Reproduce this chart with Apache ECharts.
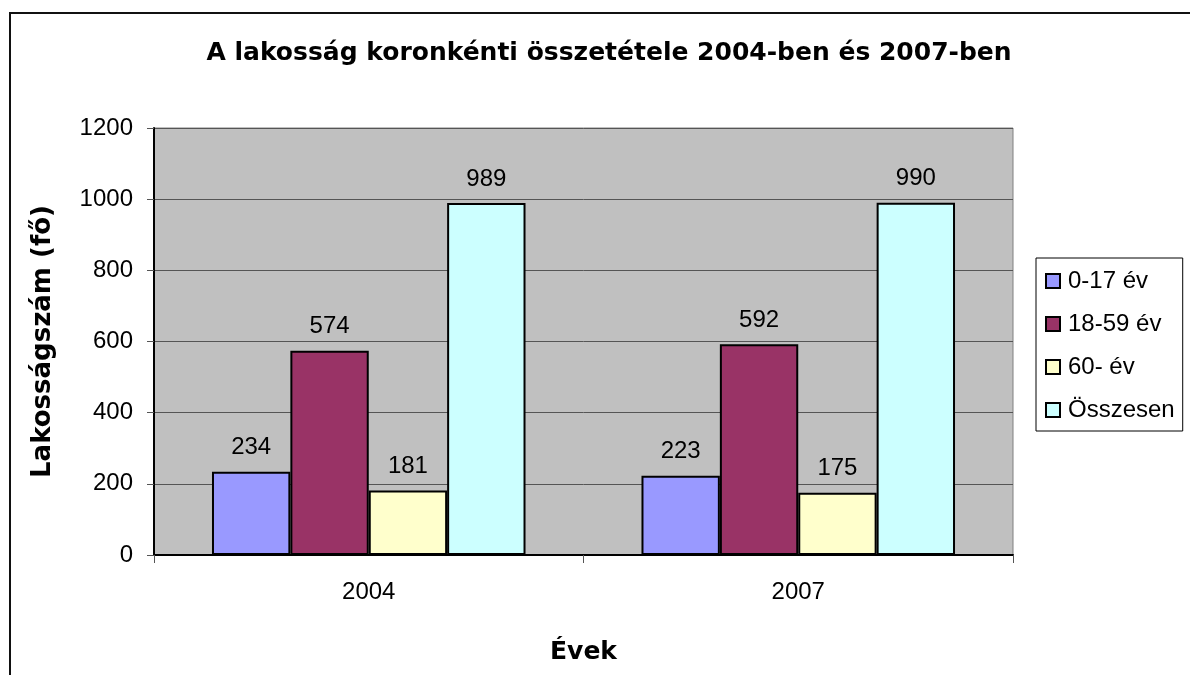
<!DOCTYPE html>
<html>
<head>
<meta charset="utf-8">
<script src="https://cdn.jsdelivr.net/npm/echarts@6/dist/echarts.min.js"></script>
<style>
  html, body { margin: 0; padding: 0; background: #fff; }
  #main { width: 1190px; height: 675px; }
</style>
</head>
<body>
<div id="main"></div>
<script>
// adatok
var years = ['2004', '2007'];
var seriesNames = ['0-17 év', '18-59 év', '60- év', 'Összesen'];
var age0_17 = [234, 223];
var age18_59 = [574, 592];
var age60 = [181, 175];
var total = [989, 990];
var colors = ['#9999FF', '#993366', '#FFFFCC', '#CCFFFF'];

var chart = echarts.init(document.getElementById('main'));

function makeSeries(name, data, i) {
  return {
    name: name,
    type: 'bar',
    data: data,
    barGap: '0%',
    barCategoryGap: '27%',
    itemStyle: { color: colors[i], borderColor: '#000', borderWidth: 2 },
    label: {
      show: true,
      position: 'top',
      distance: 12,
      fontSize: 24,
      fontFamily: 'Liberation Sans, Arial',
      color: '#000'
    }
  };
}

chart.setOption({
  animation: false,
  backgroundColor: '#fff',
  graphic: [{
    type: 'rect',
    shape: { x: 10, y: 13, width: 1300, height: 800 },
    style: { fill: 'none', stroke: '#111', lineWidth: 2 },
    silent: true
  }],
  title: {
    text: 'A lakosság koronkénti összetétele 2004-ben és 2007-ben',
    left: 604,
    top: 36,
    textAlign: 'center',
    textStyle: {
      fontFamily: 'DejaVu Sans',
      fontWeight: 'bold',
      fontSize: 25,
      color: '#000'
    }
  },
  legend: {
    orient: 'vertical',
    left: 1036,
    top: 258,
    width: 152,
    height: 166,
    padding: [11, 8, 9, 9],
    itemGap: 19,
    itemWidth: 14,
    itemHeight: 14,
    icon: 'rect',
    backgroundColor: '#fff',
    borderColor: '#000',
    borderWidth: 1,
    itemStyle: { borderWidth: 2, borderColor: '#000' },
    textStyle: { fontSize: 24, fontFamily: 'Liberation Sans, Arial', color: '#000', padding: [0, 0, 0, 3] },
    data: seriesNames
  },
  grid: {
    left: 154,
    top: 128,
    right: 177,
    bottom: 120,
    show: true,
    backgroundColor: '#C0C0C0',
    borderColor: '#808080',
    borderWidth: 1
  },
  xAxis: {
    type: 'category',
    data: years,
    name: 'Évek',
    nameLocation: 'middle',
    nameGap: 85,
    nameTextStyle: { fontFamily: 'DejaVu Sans', fontWeight: 'bold', fontSize: 25, color: '#000' },
    axisLine: { lineStyle: { color: '#000', width: 2 } },
    axisTick: { show: true, alignWithLabel: false, length: 8, lineStyle: { color: '#555' } },
    axisLabel: { fontSize: 24, fontFamily: 'Liberation Sans, Arial', color: '#000', margin: 25 }
  },
  yAxis: {
    type: 'value',
    min: 0,
    max: 1200,
    interval: 200,
    name: 'Lakosságszám (fő)',
    nameLocation: 'middle',
    nameGap: 98,
    nameTextStyle: { fontFamily: 'DejaVu Sans', fontWeight: 'bold', fontSize: 26, color: '#000' },
    axisLine: { show: true, lineStyle: { color: '#000', width: 2 } },
    axisTick: { show: true, length: 7, lineStyle: { color: '#555' } },
    axisLabel: {
      fontSize: 24, fontFamily: 'Liberation Sans, Arial', color: '#000', margin: 21,
      formatter: function (v) { return String(v); }
    },
    splitLine: { show: true, lineStyle: { color: '#555', width: 1 } }
  },
  series: [
    makeSeries(seriesNames[0], age0_17, 0),
    makeSeries(seriesNames[1], age18_59, 1),
    makeSeries(seriesNames[2], age60, 2),
    makeSeries(seriesNames[3], total, 3)
  ]
});
</script>
</body>
</html>
